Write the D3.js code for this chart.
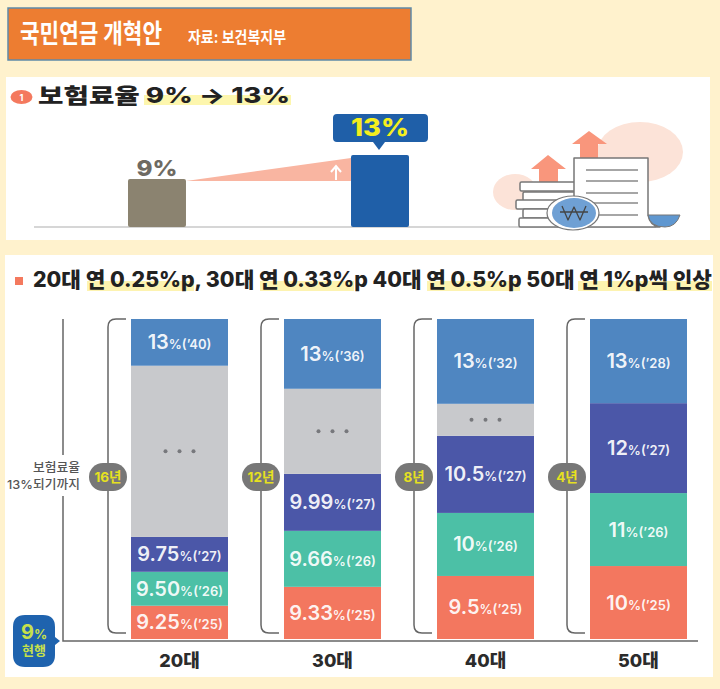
<!DOCTYPE html>
<html lang="ko">
<head>
<meta charset="utf-8">
<script src="https://cdn.jsdelivr.net/npm/d3@7"></script>
<style>
  body { margin: 0; background: #fff2cd; }
  svg { display: block; }
  text { font-family: Inter, "Noto Sans CJK KR", sans-serif; }
</style>
</head>
<body>
<svg></svg>
<script>
//* Data
const rateLabels = ["9%", "13%"];
const rates = [9, 13];

const ageGroups = ["20대", "30대", "40대", "50대"];
const spans = ["16년", "12년", "8년", "4년"];

// Drawn height of each block, % of the column (the source graphic is not to scale)
const share25 = [10.4, 16.3, 19.7, 22.8];
const share26 = [10.6, 17.5, 19.7, 22.8];
const share27 = [10.9, 17.8, 24.1, 28.1];
const shareGap = [53.5, 26.6, 10.0, 0];
const shareFinal = [14.6, 21.8, 26.5, 26.3];

const rate25 = ["9.25", "9.33", "9.5", "10"];
const rate26 = ["9.50", "9.66", "10", "11"];
const rate27 = ["9.75", "9.99", "10.5", "12"];
const rateFinal = ["13", "13", "13", "13"];
const finalYears = ["40", "36", "32", "28"];

const blockKeys = ["y25", "y26", "y27", "gap", "final"];
const blockColors = {
  y25: "#f3775f", y26: "#4cc0a6", y27: "#4b57a8", gap: "#c8c9cc", final: "#4f86c1"
};

const width = 720;
const height = 689;

const svg = d3.select("svg")
  .attr("width", width)
  .attr("height", height);

svg.append("rect").attr("width", width).attr("height", height).attr("fill", "#fff2cd");

//* Header box
svg.append("rect")
  .attr("x", 8).attr("y", 8).attr("width", 403).attr("height", 52)
  .attr("fill", "#ed7d31").attr("stroke", "#5f8aa8").attr("stroke-width", 1.5);
svg.append("text")
  .attr("x", 20).attr("y", 43)
  .attr("font-size", 26).attr("font-weight", 700).attr("fill", "#fff")
  .attr("textLength", 142).attr("lengthAdjust", "spacingAndGlyphs")
  .text("국민연금 개혁안");
svg.append("text")
  .attr("x", 188).attr("y", 43)
  .attr("font-size", 16).attr("font-weight", 700).attr("fill", "#fff")
  .attr("textLength", 98).attr("lengthAdjust", "spacingAndGlyphs")
  .text("자료: 보건복지부");

//* Top panel: premium rate 9% -> 13%
svg.append("rect")
  .attr("x", 6).attr("y", 77).attr("width", 704).attr("height", 163)
  .attr("fill", "#fff");

svg.append("rect")
  .attr("x", 144).attr("y", 95).attr("width", 147).attr("height", 10)
  .attr("fill", "#fdf6ad");
svg.append("ellipse")
  .attr("cx", 21.5).attr("cy", 97).attr("rx", 11).attr("ry", 7)
  .attr("fill", "#f4795e");
svg.append("text")
  .attr("x", 21.5).attr("y", 100.5).attr("text-anchor", "middle")
  .attr("font-size", 9).attr("font-weight", 700).attr("fill", "#fff")
  .text("1");
svg.append("text")
  .attr("x", 38).attr("y", 103)
  .attr("font-size", 21).attr("font-weight", 800).attr("fill", "#222")
  .attr("textLength", 252).attr("lengthAdjust", "spacingAndGlyphs")
  .text("보험료율 9% → 13%");

const rateX = d3.scaleBand()
  .domain(rateLabels)
  .range([128, 409])
  .paddingInner(0.74);

// Axis foot sits at 1 so that both drawn heights line up with the source
const rateY = d3.scaleLinear().domain([1, 13]).range([227, 155]);

const rise = d3.line();
svg.append("path")
  .attr("d", rise([
    [rateX("9%") + rateX.bandwidth(), rateY(9) + 2],
    [rateX("13%"), rateY(13) + 3],
    [rateX("13%"), rateY(9) + 2]
  ]) + "Z")
  .attr("fill", "#f9b5a1");

svg.append("path")
  .attr("d", "M336,180V168M331,172L336,166L341,172")
  .attr("fill", "none").attr("stroke", "#fff").attr("stroke-width", 2);

svg.append("line")
  .attr("x1", 34).attr("x2", 656).attr("y1", 227).attr("y2", 227)
  .attr("stroke", "#c9c9c9").attr("stroke-width", 1.5);

svg.selectAll(".rate-bar")
  .data(rateLabels)
  .join("rect")
  .classed("rate-bar", true)
  .attr("x", d => rateX(d))
  .attr("y", (d, i) => rateY(rates[i]))
  .attr("width", rateX.bandwidth())
  .attr("height", (d, i) => rateY(1) - rateY(rates[i]))
  .attr("rx", 2)
  .attr("fill", (d, i) => i ? "#1f5fa8" : "#8b8370");

svg.append("text")
  .attr("x", rateX("9%") + rateX.bandwidth() / 2).attr("y", 176)
  .attr("text-anchor", "middle")
  .attr("font-size", 22).attr("font-weight", 800).attr("fill", "#6e6a62")
  .attr("textLength", 41).attr("lengthAdjust", "spacingAndGlyphs")
  .text(rateLabels[0]);

svg.append("path")
  .attr("d", "M337,114H424Q428,114 428,118V138Q428,142 424,142H385L379,150L373,142H337Q333,142 333,138V118Q333,114 337,114Z")
  .attr("fill", "#1f5fa8");
svg.append("text")
  .attr("x", 380).attr("y", 136)
  .attr("text-anchor", "middle")
  .attr("font-size", 24).attr("font-weight", 800).attr("fill", "#f4ee1e")
  .attr("textLength", 58).attr("lengthAdjust", "spacingAndGlyphs")
  .text(rateLabels[1]);

//* Illustration of coins and a document
const art = svg.append("g").attr("stroke-linejoin", "round");
art.append("ellipse").attr("cx", 640).attr("cy", 152).attr("rx", 43).attr("ry", 30).attr("fill", "#fce3d8");
art.append("ellipse").attr("cx", 515).attr("cy", 192).attr("rx", 22).attr("ry", 18).attr("fill", "#fce3d8");
art.append("path")
  .attr("d", "M589,131L607,144H598V160H580V144H572Z")
  .attr("fill", "#f9967c");
art.append("path")
  .attr("d", "M548,155L566,169H558V184H539V169H531Z")
  .attr("fill", "#f9967c");
art.selectAll(".coin")
  .data([[520, 182, 58], [523, 192, 54], [516, 200, 60], [523, 209, 55], [519, 218, 60]])
  .join("rect")
  .classed("coin", true)
  .attr("x", d => d[0]).attr("y", d => d[1])
  .attr("width", d => d[2]).attr("height", 9)
  .attr("rx", 1.5)
  .attr("fill", "#fff").attr("stroke", "#777").attr("stroke-width", 1.5);
art.append("path")
  .attr("d", "M574,226V158H648V215Q650,226 660,227H574Z")
  .attr("fill", "#fff").attr("stroke", "#777").attr("stroke-width", 1.5);
art.append("path")
  .attr("d", "M648,215H680Q676,227 665,227Q650,227 648,215Z")
  .attr("fill", "#5f97d0").attr("stroke", "#777").attr("stroke-width", 1);
art.selectAll(".doc-line")
  .data([170, 181, 193, 203, 215])
  .join("line")
  .classed("doc-line", true)
  .attr("x1", 586).attr("x2", 638)
  .attr("y1", d => d).attr("y2", d => d)
  .attr("stroke", "#888").attr("stroke-width", 1.5);
art.append("ellipse").attr("cx", 573).attr("cy", 213).attr("rx", 26).attr("ry", 17)
  .attr("fill", "#fff").attr("stroke", "#777").attr("stroke-width", 1.2);
art.append("ellipse").attr("cx", 574).attr("cy", 213).attr("rx", 22).attr("ry", 15).attr("fill", "#6fa0d4");
art.append("path")
  .attr("d", "M562,206L568,220L574,207L580,220L586,206M560,212H588")
  .attr("fill", "none").attr("stroke", "#444").attr("stroke-width", 1.3);

//* Bottom panel: yearly rise by age group
svg.append("rect")
  .attr("x", 5).attr("y", 255).attr("width", 708).attr("height", 422)
  .attr("fill", "#fff");

svg.selectAll(".marker")
  .data([[87, 194], [260, 354], [427, 520], [578, 712]])
  .join("rect")
  .classed("marker", true)
  .attr("x", d => d[0]).attr("y", 281)
  .attr("width", d => d[1] - d[0]).attr("height", 10)
  .attr("fill", "#fdf3b0");
svg.append("rect")
  .attr("x", 15).attr("y", 277).attr("width", 8).attr("height", 8)
  .attr("fill", "#f4795e");
svg.append("text")
  .attr("x", 33).attr("y", 287)
  .attr("font-size", 21).attr("font-weight", 800).attr("fill", "#222")
  .attr("textLength", 679).attr("lengthAdjust", "spacingAndGlyphs")
  .text("20대 연 0.25%p, 30대 연 0.33%p 40대 연 0.5%p 50대 연 1%p씩 인상");

const rows = ageGroups.map((age, i) => ({
  age,
  y25: share25[i],
  y26: share26[i],
  y27: share27[i],
  gap: shareGap[i],
  final: shareFinal[i]
}));

const blockLabels = {
  y25: i => [rate25[i], "25"],
  y26: i => [rate26[i], "26"],
  y27: i => [rate27[i], "27"],
  final: i => [rateFinal[i], finalYears[i]]
};

const x = d3.scaleBand()
  .domain(ageGroups)
  .range([131, 687])
  .paddingInner(0.366);

const y = d3.scaleLinear().domain([0, 100]).range([639, 319]);

const series = d3.stack().keys(blockKeys)(rows);

const layers = svg.selectAll(".layer")
  .data(series)
  .join("g")
  .classed("layer", true);

layers.selectAll("rect")
  .data(s => s.map(d => ({key: s.key, lo: d[0], hi: d[1], age: d.data.age})))
  .join("rect")
  .attr("x", d => x(d.age))
  .attr("y", d => y(d.hi))
  .attr("width", x.bandwidth())
  .attr("height", d => y(d.lo) - y(d.hi))
  .attr("fill", d => blockColors[d.key]);

const labels = layers.filter(s => s.key !== "gap")
  .selectAll("text")
  .data(s => s.map((d, i) => ({
    age: d.data.age,
    mid: (d[0] + d[1]) / 2,
    label: blockLabels[s.key](i)
  })))
  .join("text")
  .attr("x", d => x(d.age) + x.bandwidth() / 2)
  .attr("y", d => y(d.mid) + 7)
  .attr("text-anchor", "middle")
  .attr("fill", "#fff")
  .attr("fill-opacity", 0.93);

labels.append("tspan")
  .attr("font-size", 20).attr("font-weight", 600)
  .text(d => d.label[0]);
labels.append("tspan")
  .attr("font-size", 13).attr("font-weight", 600)
  .text(d => `%(’${d.label[1]})`);

// Three dots on the elided years
const gapRows = series.find(s => s.key === "gap").filter(d => d[1] > d[0]);
gapRows.forEach(d => {
  svg.append("g")
    .selectAll("circle")
    .data([-14, 0, 14])
    .join("circle")
    .attr("cx", o => x(d.data.age) + x.bandwidth() / 2 + o)
    .attr("cy", y((d[0] + d[1]) / 2))
    .attr("r", 2)
    .attr("fill", "#77787c");
});

//* Axis lines
const axisColor = "#666";
svg.append("path")
  .attr("d", "M63,319V641H698")
  .attr("fill", "none").attr("stroke", axisColor).attr("stroke-width", 1.5);

svg.append("rect")
  .attr("x", 6).attr("y", 455).attr("width", 76).attr("height", 41)
  .attr("fill", "#fff");
svg.selectAll(".axis-note")
  .data(["보험료율", "13%되기까지"])
  .join("text")
  .classed("axis-note", true)
  .attr("x", 80)
  .attr("y", (d, i) => 472 + i * 17)
  .attr("text-anchor", "end")
  .attr("font-size", 12).attr("font-weight", 500).attr("fill", "#555")
  .attr("textLength", (d, i) => i ? 73 : 47).attr("lengthAdjust", "spacingAndGlyphs")
  .text(d => d);

svg.selectAll(".age-label")
  .data(ageGroups)
  .join("text")
  .classed("age-label", true)
  .attr("x", d => x(d) + x.bandwidth() / 2)
  .attr("y", 667)
  .attr("text-anchor", "middle")
  .attr("font-size", 18).attr("font-weight", 800).attr("fill", "#2b2b2b")
  .text(d => d);

//* Brackets with the number of years
const bracket = svg.selectAll(".bracket")
  .data(ageGroups)
  .join("g")
  .classed("bracket", true)
  .attr("transform", d => `translate(${x(d) - 23}, 0)`);

bracket.append("path")
  .attr("d", "M18,319H8Q0,319 0,327V625Q0,633 8,633H18")
  .attr("fill", "none").attr("stroke", axisColor).attr("stroke-width", 1.5);
bracket.append("rect")
  .attr("x", -19).attr("y", 463).attr("width", 38).attr("height", 28).attr("rx", 14)
  .attr("fill", "#777");
bracket.append("text")
  .attr("y", 482)
  .attr("text-anchor", "middle")
  .attr("font-size", 13.5).attr("font-weight", 700).attr("fill", "#e6e11f")
  .text((d, i) => spans[i]);

//* Current-rate badge
svg.append("path")
  .attr("d", "M25,615H43Q55,615 55,627V637L60,641L55,645V655Q55,667 43,667H25Q13,667 13,655V627Q13,615 25,615Z")
  .attr("fill", "#1f63ae");
const badge = svg.append("text")
  .attr("x", 34).attr("y", 639)
  .attr("text-anchor", "middle")
  .attr("font-weight", 700).attr("fill", "#c6e04a");
badge.append("tspan").attr("font-size", 20).text("9");
badge.append("tspan").attr("font-size", 13).text("%");
svg.append("text")
  .attr("x", 34).attr("y", 655)
  .attr("text-anchor", "middle")
  .attr("font-size", 13).attr("font-weight", 700).attr("fill", "#c6e04a")
  .text("현행");
</script>
</body>
</html>
